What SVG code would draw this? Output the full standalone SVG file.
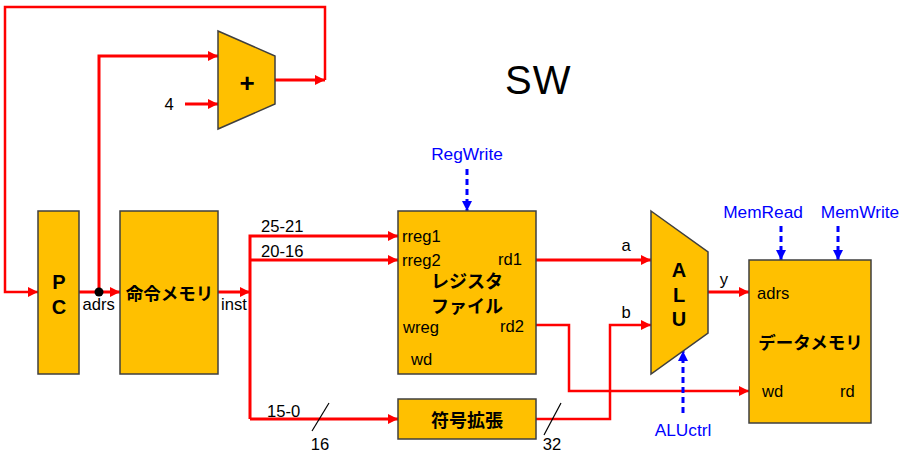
<svg xmlns="http://www.w3.org/2000/svg" width="899" height="453" viewBox="0 0 899 453">
<style>
.b{fill:#ffc000;stroke:#3f3f3f;stroke-width:1.5}
.w{fill:none;stroke:#ff0000;stroke-width:3}
.t{fill:none;stroke:#ff0000;stroke-width:2.5}
.c{fill:none;stroke:#0000ff;stroke-width:3;stroke-dasharray:6 4}
.l{fill:none;stroke:#000;stroke-width:1.2}
text{font-family:"Liberation Sans",Arial,"Noto Sans CJK JP",sans-serif;font-size:16.6px;fill:#000}
.m{text-anchor:middle}
.h{font-family:"Liberation Sans","Noto Sans CJK JP",sans-serif;font-weight:700;font-size:18px;text-anchor:middle}
.u{fill:#0000ff;text-anchor:middle;font-size:17.3px}
</style>
<defs>
<marker id="r" markerUnits="userSpaceOnUse" markerWidth="12" markerHeight="12" refX="10" refY="5" orient="auto"><path d="M0 0L10 5L0 10z" fill="#ff0000"/></marker>
<marker id="bl" markerUnits="userSpaceOnUse" markerWidth="12" markerHeight="12" refX="10" refY="5" orient="auto"><path d="M0 0L10 5L0 10z" fill="#0000ff"/></marker>
</defs>
<g id="connectors">
<path class="t" d="M325 80V7H5V292H38" marker-end="url(#r)"/>
<path class="w" d="M275 80H325" marker-end="url(#r)"/>
<path class="w" d="M79 292H120" marker-end="url(#r)"/>
<path class="w" d="M99 292V56H218" marker-end="url(#r)"/>
<path class="w" d="M185 104H218" marker-end="url(#r)"/>
<path class="w" d="M218 292H250" marker-end="url(#r)"/>
<path class="w" d="M250 419V236H398" marker-end="url(#r)"/>
<path class="w" d="M250 260H398" marker-end="url(#r)"/>
<path class="w" d="M250 419H398" marker-end="url(#r)"/>
<path class="w" d="M536 260H651" marker-end="url(#r)"/>
<path class="t" d="M536 325H569V391H749" marker-end="url(#r)"/>
<path class="t" d="M536 419H610V325H651" marker-end="url(#r)"/>
<path class="w" d="M708 292H749" marker-end="url(#r)"/>
<path class="c" d="M467 169V211" marker-end="url(#bl)"/>
<path class="c" d="M781 226V260" marker-end="url(#bl)"/>
<path class="c" d="M838 226V260" marker-end="url(#bl)"/>
<path class="c" d="M683 413V351" marker-end="url(#bl)"/>
<circle cx="99" cy="292" r="4.5" fill="#000"/>
<path class="l" d="M312 431L329 403"/>
<path class="l" d="M544 435L561 403"/>
</g>
<g id="pc"><rect class="b" x="38" y="211" width="41" height="163"/><text class="h" x="59" y="289" style="font-size:20px">P</text><text class="h" x="59" y="314" style="font-size:20px">C</text></g>
<g id="imem"><rect class="b" x="120" y="211" width="98" height="163"/><text class="h" x="169.500" y="300" style="font-size:17.5px">命令メモリ</text></g>
<g id="adder"><polygon class="b" points="218,31 275,56 275,104 218,129"/><text class="h" x="247" y="92" style="font-size:26px">+</text></g>
<g id="regfile"><rect class="b" x="398" y="211" width="138" height="163"/>
<text x="402" y="242">rreg1</text><text x="402" y="266">rreg2</text><text x="498" y="265">rd1</text>
<text class="h" x="467" y="288">レジスタ</text><text class="h" x="467" y="313">ファイル</text>
<text x="403" y="333">wreg</text><text x="500" y="332">rd2</text><text x="411" y="365">wd</text></g>
<g id="signext"><rect class="b" x="398" y="399" width="138" height="40"/><text class="h" x="467" y="427">符号拡張</text></g>
<g id="alu"><polygon class="b" points="651,211 708,252 708,333 651,374"/><text class="h" x="679" y="277" style="font-size:20px">A</text><text class="h" x="679" y="302" style="font-size:20px">L</text><text class="h" x="679" y="326" style="font-size:20px">U</text></g>
<g id="dmem"><rect class="b" x="749" y="260" width="122" height="163"/>
<text x="757" y="299">adrs</text><text class="h" x="810.500" y="349" style="font-size:17.5px">データメモリ</text><text x="762" y="397">wd</text><text x="840" y="397">rd</text></g>
<g id="labels">
<text x="505" y="94" style="font-size:40px" letter-spacing="1">SW</text>
<text class="m" x="169" y="110">4</text>
<text x="82.500" y="310">adrs</text><text x="221" y="310">inst</text>
<text x="261" y="232">25-21</text><text x="261" y="257">20-16</text><text x="267" y="417">15-0</text>
<text class="m" x="320" y="450">16</text><text class="m" x="552" y="450">32</text>
<text class="m" x="626" y="251">a</text><text class="m" x="626" y="318">b</text><text class="m" x="724" y="285">y</text>
<text class="u" x="467" y="160">RegWrite</text>
<text class="u" x="763" y="218">MemRead</text>
<text class="u" x="860" y="218">MemWrite</text>
<text class="u" x="683" y="436">ALUctrl</text>
</g>
</svg>
